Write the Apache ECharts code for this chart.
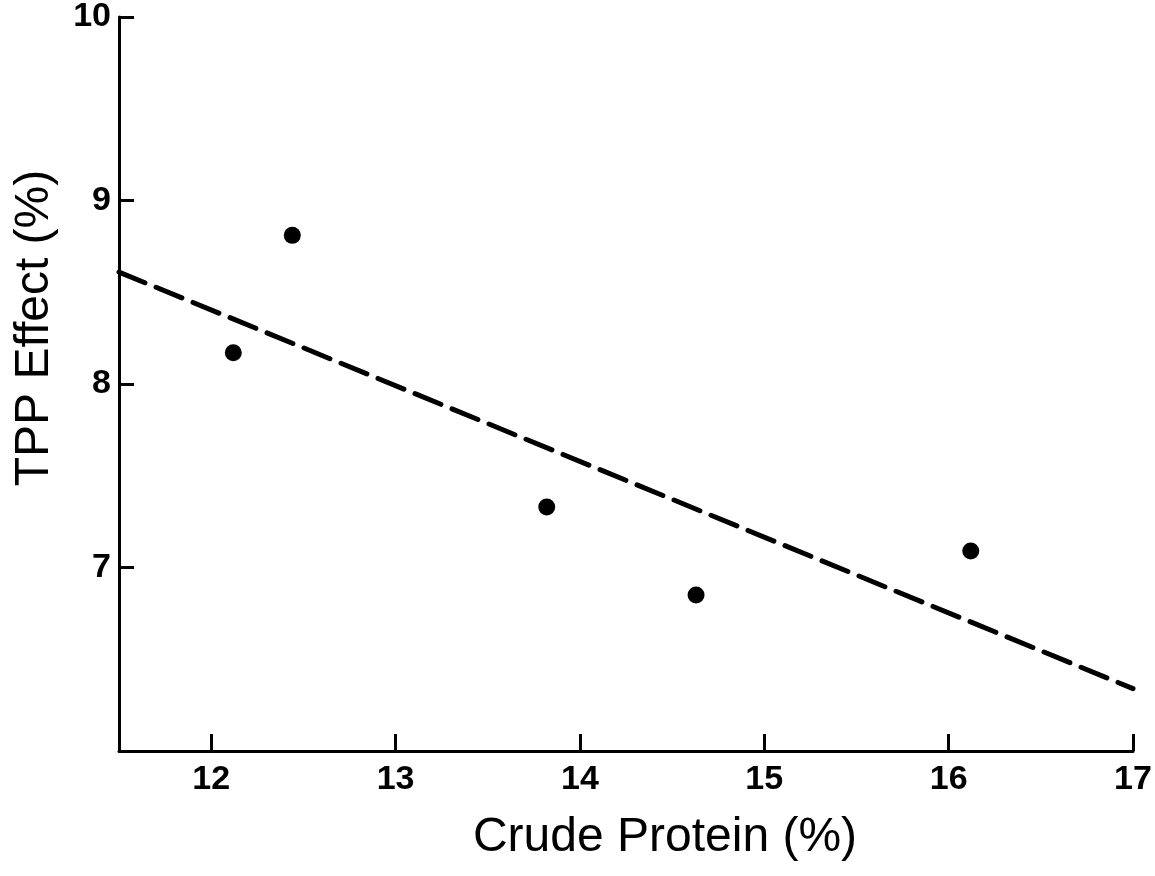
<!DOCTYPE html>
<html><head><meta charset="utf-8">
<script src="https://cdn.jsdelivr.net/npm/echarts@6/dist/echarts.min.js"></script>
<style>html,body{margin:0;padding:0;background:#fff}#c{width:1155px;height:876px}</style>
</head><body><div id="c"></div>
<script>
const crudeProtein = [12.12, 12.44, 13.82, 14.63, 16.12];
const tppEffect = [8.17, 8.81, 7.33, 6.85, 7.09];
const fitX = [11.5, 17];
const fitY = [8.61, 6.34];
const xTicks = [12, 13, 14, 15, 16, 17];
const yTicks = [7, 8, 9, 10];
const xTitle = 'Crude Protein (%)';
const yTitle = 'TPP Effect (%)';

const chart = echarts.init(document.getElementById('c'), null, {renderer: 'canvas'});
const axisFont = {color: '#000', fontSize: 34, fontWeight: 'bold', fontFamily: 'Liberation Sans, Arial, sans-serif'};
chart.setOption({
  animation: false,
  backgroundColor: '#fff',
  grid: {left: 119, right: 22, top: 17, bottom: 125},
  xAxis: {
    type: 'value', min: 11.5, max: 17,
    axisLine: {show: true, lineStyle: {color: '#000', width: 3}},
    axisTick: {show: true, inside: true, length: 17, lineStyle: {color: '#000', width: 3}, customValues: xTicks},
    axisLabel: Object.assign({margin: 12, customValues: xTicks, formatter: v => String(v)}, axisFont),
    splitLine: {show: false}
  },
  yAxis: {
    type: 'value', min: 6, max: 10,
    axisLine: {show: true, lineStyle: {color: '#000', width: 3}},
    axisTick: {show: true, inside: true, length: 15, lineStyle: {color: '#000', width: 3}, customValues: yTicks},
    axisLabel: Object.assign({margin: 8, customValues: yTicks, formatter: v => String(v)}, axisFont),
    splitLine: {show: false}
  },
  graphic: [
    {type: 'text', x: 665, y: 838, style: {text: xTitle, fill: '#000', font: '48px "Liberation Sans", Arial, sans-serif', align: 'center', verticalAlign: 'middle'}},
    {type: 'text', x: 35, y: 328, rotation: Math.PI / 2, style: {text: yTitle, fill: '#000', font: '48px "Liberation Sans", Arial, sans-serif', align: 'center', verticalAlign: 'middle'}}
  ],
  series: [
    {
      type: 'line', data: fitX.map((x, i) => [x, fitY[i]]), symbol: 'none', silent: true,
      lineStyle: {color: '#000', width: 5, type: [28, 12], cap: 'round', opacity: 1}
    },
    {
      type: 'scatter', data: crudeProtein.map((x, i) => [x, tppEffect[i]]),
      symbol: 'circle', symbolSize: 17, itemStyle: {color: '#000', opacity: 1}
    }
  ]
});
</script></body></html>
